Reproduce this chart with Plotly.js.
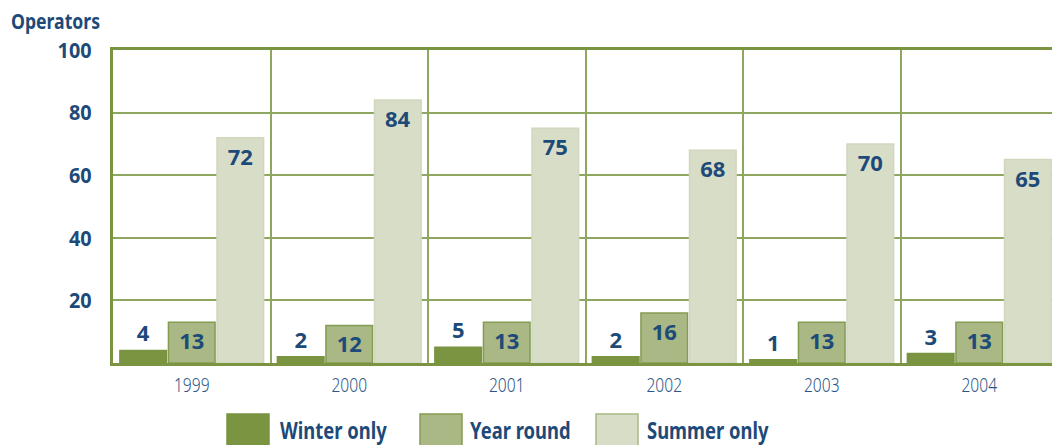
<!DOCTYPE html>
<html>
<head>
<meta charset="utf-8">
<script src="https://cdn.plot.ly/plotly-3.0.1.min.js"></script>
<style>
html,body{margin:0;padding:0;overflow:hidden;background:#fff;}
#chart{width:1100px;height:445px;}
</style>
</head>
<body>
<div id="chart"></div>
<script>
const years = ['1999','2000','2001','2002','2003','2004'];
const winterOnly = [4, 2, 5, 2, 1, 3];
const yearRound = [13, 12, 13, 16, 13, 13];
const summerOnly = [72, 84, 75, 68, 70, 65];
const seriesNames = ['Winter only', 'Year round', 'Summer only'];
const yTicks = [20, 40, 60, 80, 100];

const FONT = '"Noto Sans", "Open Sans", sans-serif';
const BLUE = '#1d4a78';
const fills = ['#7a9442', '#a9b884', '#d7ddc7'];
const lines = ['#7a9442', '#849c52', '#d0d7bd'];
const bold = size => ({family: FONT, size: size, color: BLUE, weight: 'bold'});
const labelFont = bold(22);

const series = [winterOnly, yearRound, summerOnly];
const traces = series.map((vals, i) => ({
  type: 'bar',
  name: seriesNames[i],
  x: years,
  y: vals,
  text: vals.map(String),
  textposition: i === 0 ? 'outside' : 'inside',
  insidetextanchor: 'end',
  textangle: 0,
  constraintext: 'none',
  cliponaxis: false,
  textfont: labelFont,
  insidetextfont: labelFont,
  outsidetextfont: labelFont,
  marker: {color: fills[i], line: {color: lines[i], width: 1.5}},
  hoverinfo: 'x+y+name',
  showlegend: false
}));

const swatchX = [227, 420, 596];
const textX = [278, 468, 645];
const L = 113, PW = 945, T = 50, PH = 313;
const px = v => (v - L) / PW;
const py = v => (T + PH - v) / PH;
const shapes = [];
const annotations = [];
seriesNames.forEach((n, i) => {
  shapes.push({
    type: 'rect', xref: 'paper', yref: 'paper',
    x0: px(swatchX[i]), x1: px(swatchX[i] + 42),
    y0: py(414), y1: py(450),
    fillcolor: fills[i], line: {color: i === 2 ? '#a9b884' : lines[i], width: 1.5}
  });
  annotations.push({
    xref: 'paper', yref: 'paper', x: px(textX[i]), y: py(430),
    xanchor: 'left', yanchor: 'middle', showarrow: false,
    text: n, font: bold(23)
  });
});
annotations.push({
  xref: 'paper', yref: 'paper', x: px(9), y: py(20),
  xanchor: 'left', yanchor: 'middle', showarrow: false,
  text: 'Operators', font: bold(22)
});

const layout = {
  width: 1100, height: 445,
  margin: {l: L, r: 1100 - L - PW, t: T, b: 445 - T - PH},
  paper_bgcolor: '#fff', plot_bgcolor: '#fff',
  barmode: 'group',
  bargap: 0.075,
  bargroupgap: 0.04,
  font: {family: FONT, color: BLUE},
  xaxis: {
    type: 'category',
    tickson: 'boundaries',
    showgrid: true, gridcolor: '#8fa660', gridwidth: 2,
    showline: true, mirror: true, linecolor: '#7a9442', linewidth: 3,
    ticks: '', ticklen: 0,
    tickfont: {family: FONT, size: 20, color: '#2c5687', weight: 300},
    ticklabelstandoff: 2
  },
  yaxis: {
    range: [0, 100],
    tickvals: yTicks,
    ticktext: yTicks.map(String),
    showgrid: true, gridcolor: '#8fa660', gridwidth: 2,
    zeroline: false,
    showline: true, linecolor: '#7a9442', linewidth: 3,
    ticks: '',
    tickfont: bold(22),
    ticklabelstandoff: 14
  },
  shapes: shapes,
  annotations: annotations
};

// narrow the glyphs to imitate the condensed typeface of the original,
// keeping each text's anchor edge where Plotly placed it
function condense(gd) {
  const rules = [['.annotation-text', 0.8, 'left'], ['.xtick text', 0.78, 'center'], ['.ytick text', 0.9, 'right']];
  rules.forEach(([sel, f, keep]) => {
    gd.querySelectorAll(sel).forEach(el => {
      const w = el.getComputedTextLength();
      if (!(w > 0)) return;
      const b0 = el.getBBox();
      el.setAttribute('textLength', (w * f).toFixed(1));
      el.setAttribute('lengthAdjust', 'spacingAndGlyphs');
      const b1 = el.getBBox();
      let dx = 0;
      if (keep === 'left') dx = b0.x - b1.x;
      else if (keep === 'right') dx = (b0.x + b0.width) - (b1.x + b1.width);
      else dx = (b0.x + b0.width / 2) - (b1.x + b1.width / 2);
      if (Math.abs(dx) > 0.1) {
        const x = parseFloat(el.getAttribute('x') || '0');
        el.setAttribute('x', (x + dx).toFixed(1));
      }
    });
  });
}

Plotly.newPlot('chart', traces, layout, {displayModeBar: false, staticPlot: true}).then(condense);
</script>
</body>
</html>
